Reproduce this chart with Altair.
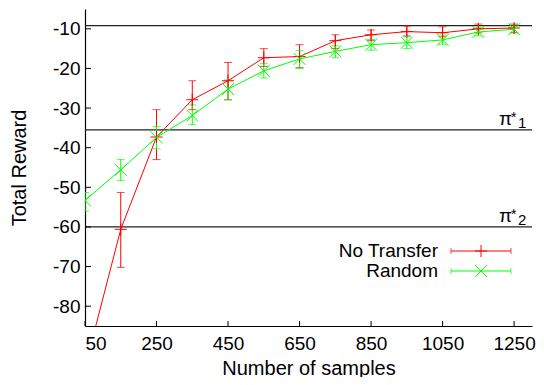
import altair as alt
import pandas as pd

# ---- data ----
samples = [50, 150, 250, 350, 450, 550, 650, 750, 850, 950, 1050, 1150, 1250]

nt_mean = [-95.5, -60.6, -37.3, -27.9, -23.1, -17.3, -17.0, -13.0, -11.5, -10.7, -11.0, -10.0, -9.8]
nt_low = [-100.0, -70.2, -43.0, -30.4, -27.9, -19.5, -19.8, -15.0, -13.0, -11.8, -12.0, -11.0, -11.0]
nt_high = [-91.0, -51.3, -30.4, -23.1, -18.5, -15.0, -14.0, -11.5, -10.3, -9.3, -9.5, -8.8, -8.8]

rd_mean = [-53.3, -45.6, -37.4, -31.9, -25.2, -20.6, -17.6, -15.7, -14.0, -13.5, -12.8, -10.8, -10.1]
rd_low = [-56.0, -48.3, -40.3, -34.2, -27.9, -22.4, -20.0, -17.3, -15.4, -15.0, -13.9, -11.8, -11.0]
rd_high = [-51.3, -43.0, -34.7, -29.2, -22.9, -18.8, -15.5, -14.3, -12.7, -12.0, -11.6, -9.7, -9.0]

series_names = ["No Transfer", "Random"]
series_colors = ["#ff0000", "#00ff00"]
series_shapes = ["M-1,0L1,0M0,-1L0,1", "M-1,-1L1,1M-1,1L1,-1"]

ref_values = [-9.2, -35.5, -60.0]
ref_subscripts = ["", "1", "2"]

x_ticks = [50, 250, 450, 650, 850, 1050, 1250]
y_ticks = [-80, -70, -60, -50, -40, -30, -20, -10]

# ---- layout ----
W, H = 447, 317
FONT = "Liberation Sans"
FS = 19

rows = []
for name, m, lo, hi in [("No Transfer", nt_mean, nt_low, nt_high), ("Random", rd_mean, rd_low, rd_high)]:
    for x, a, b, c in zip(samples, m, lo, hi):
        rows.append({"samples": x, "reward": a, "low": b, "high": c, "series": name})
df = pd.DataFrame(rows)

xscale = alt.Scale(domain=[50, 1300], nice=False, zero=False)
yscale = alt.Scale(domain=[-85, -5], nice=False, zero=False)
color = alt.Color("series:N", scale=alt.Scale(domain=series_names, range=series_colors), legend=None)
shape = alt.Shape("series:N", scale=alt.Scale(domain=series_names, range=series_shapes), legend=None)

X = alt.X("samples:Q", scale=xscale,
          axis=alt.Axis(values=x_ticks, ticks=False, grid=False, title="Number of samples",
                        labelPadding=8, titleBaseline="alphabetic", titleY=48,
                        domainColor="#000", domainWidth=1.2,
                        labelExpr="toString(datum.value)"))
Y = alt.Y("reward:Q", scale=yscale,
          axis=alt.Axis(values=y_ticks, ticks=False, grid=False, title="Total Reward",
                        labelPadding=5, titleBaseline="alphabetic", titleX=-60,
                        domainColor="#000", domainWidth=1.2,
                        labelExpr="toString(datum.value)"))

base = alt.Chart(df)

lines = base.mark_line(clip=True, strokeWidth=1).encode(x=X, y=Y, color=color)
err = base.mark_rule(clip=True, strokeWidth=1).encode(
    x=alt.X("samples:Q", scale=xscale), y=alt.Y("low:Q", scale=yscale), y2="high:Q", color=color)
cap_lo = base.mark_tick(clip=True, orient="horizontal", size=8, thickness=1).encode(
    x=alt.X("samples:Q", scale=xscale), y=alt.Y("low:Q", scale=yscale), color=color)
cap_hi = base.mark_tick(clip=True, orient="horizontal", size=8, thickness=1).encode(
    x=alt.X("samples:Q", scale=xscale), y=alt.Y("high:Q", scale=yscale), color=color)
pts = base.mark_point(clip=True, filled=False, size=144, strokeWidth=1, opacity=1).encode(
    x=alt.X("samples:Q", scale=xscale), y=alt.Y("reward:Q", scale=yscale), color=color, shape=shape)

ref_df = pd.DataFrame({"val": ref_values, "sub": ref_subscripts})
refs = alt.Chart(ref_df).mark_rule(strokeWidth=1.3, color="#222").encode(
    y=alt.Y("val:Q", scale=yscale))

lab_df = ref_df[ref_df["sub"] != ""]
pi = alt.Chart(lab_df).mark_text(align="left", baseline="alphabetic", fontSize=FS, font=FONT, dy=-5, text="π").encode(
    x=alt.value(414), y=alt.Y("val:Q", scale=yscale))
star = alt.Chart(lab_df).mark_text(align="left", baseline="alphabetic", fontSize=14, font=FONT, dy=-8, text="*").encode(
    x=alt.value(426), y=alt.Y("val:Q", scale=yscale))
sub = alt.Chart(lab_df).mark_text(align="left", baseline="alphabetic", fontSize=15, font=FONT, dy=-1.5).encode(
    x=alt.value(433), y=alt.Y("val:Q", scale=yscale), text="sub:N")

# inward ticks
xt = alt.Chart(pd.DataFrame({"t": x_ticks})).mark_rule(color="#000", strokeWidth=1).encode(
    x=alt.X("t:Q", scale=xscale), y=alt.value(H), y2=alt.value(H - 5))
yt = alt.Chart(pd.DataFrame({"t": y_ticks})).mark_rule(color="#000", strokeWidth=1).encode(
    y=alt.Y("t:Q", scale=yscale), x=alt.value(0), x2=alt.value(6))

# legend drawn gnuplot-style
leg_df = pd.DataFrame({"series": series_names, "ypix": [242, 262]})
leg = alt.Chart(leg_df)
leg_text = leg.mark_text(align="right", baseline="middle", fontSize=FS, font=FONT, color="#000").encode(
    x=alt.value(353), y=alt.Y("ypix:Q", scale=None), text="series:N")
leg_line = leg.mark_rule(strokeWidth=1).encode(
    x=alt.value(366), x2=alt.value(426), y=alt.Y("ypix:Q", scale=None), color=color)
leg_cap_df = pd.DataFrame({"series": series_names * 2, "ypix": [242, 262, 242, 262], "xp": [366, 366, 426, 426]})
leg_caps = alt.Chart(leg_cap_df).mark_tick(orient="vertical", size=6, thickness=1).encode(
    x=alt.X("xp:Q", scale=None), y=alt.Y("ypix:Q", scale=None), color=color)
leg_sym = leg.mark_point(filled=False, size=144, strokeWidth=1, opacity=1).encode(
    x=alt.value(396), y=alt.Y("ypix:Q", scale=None), color=color, shape=shape)

chart = alt.layer(
    refs, err, cap_lo, cap_hi, lines, pts, xt, yt, pi, star, sub,
    leg_line, leg_caps, leg_sym, leg_text
).properties(
    width=W, height=H,
    autosize=alt.AutoSizeParams(type="none"),
    padding={"left": 77, "top": 1, "right": 4, "bottom": 51},
).configure_view(
    stroke=None
).configure_axis(
    labelFont=FONT, titleFont=FONT, labelFontSize=FS, titleFontSize=20,
    labelColor="#000", titleColor="#000", titleFontWeight="normal"
)

chart.save("out.html", embed_options={"renderer": "svg", "actions": False})
